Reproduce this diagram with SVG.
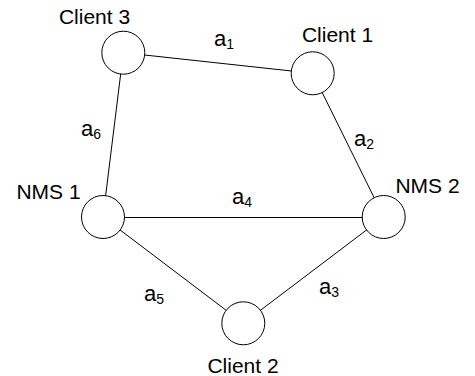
<svg xmlns="http://www.w3.org/2000/svg" width="475" height="376" viewBox="0 0 475 376">
<style>
.node{fill:#fff;stroke:#000;stroke-width:1}
.edge{stroke:#000;stroke-width:1;fill:none}
.lbl{font-family:"Liberation Sans",Arial,sans-serif;font-size:21px;fill:#000}
.el{font-family:"Liberation Sans",Arial,sans-serif;font-size:22px;fill:#000}
.sub{font-size:14px}
</style>
<rect width="475" height="376" fill="#fff"/>
<g id="connectors">
<line class="edge" x1="123.3" y1="52.7" x2="312.7" y2="73.3"/>
<line class="edge" x1="312.7" y1="73.3" x2="383.7" y2="217"/>
<line class="edge" x1="123.3" y1="52.7" x2="103" y2="217"/>
<line class="edge" x1="103" y1="217.5" x2="383.7" y2="217.5"/>
<line class="edge" x1="103" y1="217" x2="243.3" y2="323.3"/>
<line class="edge" x1="383.7" y1="217" x2="243.3" y2="323.3"/>
<text class="el" x="214" y="46">a<tspan class="sub" dy="3">1</tspan></text>
<text class="el" x="354" y="146">a<tspan class="sub" dy="3">2</tspan></text>
<text class="el" x="319" y="294">a<tspan class="sub" dy="3">3</tspan></text>
<text class="el" x="232" y="204">a<tspan class="sub" dy="3">4</tspan></text>
<text class="el" x="144" y="301">a<tspan class="sub" dy="3">5</tspan></text>
<text class="el" x="81" y="136">a<tspan class="sub" dy="3">6</tspan></text>
</g>
<g id="client3">
<circle class="node" cx="123.3" cy="52.7" r="21.5"/>
<text class="lbl" x="94.5" y="24" text-anchor="middle">Client 3</text>
</g>
<g id="client1">
<circle class="node" cx="312.7" cy="73.3" r="21.5"/>
<text class="lbl" x="337.5" y="42" text-anchor="middle">Client 1</text>
</g>
<g id="nms1">
<circle class="node" cx="103" cy="217" r="21.5"/>
<text class="lbl" x="48.5" y="199" text-anchor="middle">NMS 1</text>
</g>
<g id="nms2">
<circle class="node" cx="383.7" cy="217" r="21.5"/>
<text class="lbl" x="427.5" y="193" text-anchor="middle">NMS 2</text>
</g>
<g id="client2">
<circle class="node" cx="243.3" cy="323.3" r="21.5"/>
<text class="lbl" x="243" y="373" text-anchor="middle">Client 2</text>
</g>
</svg>
